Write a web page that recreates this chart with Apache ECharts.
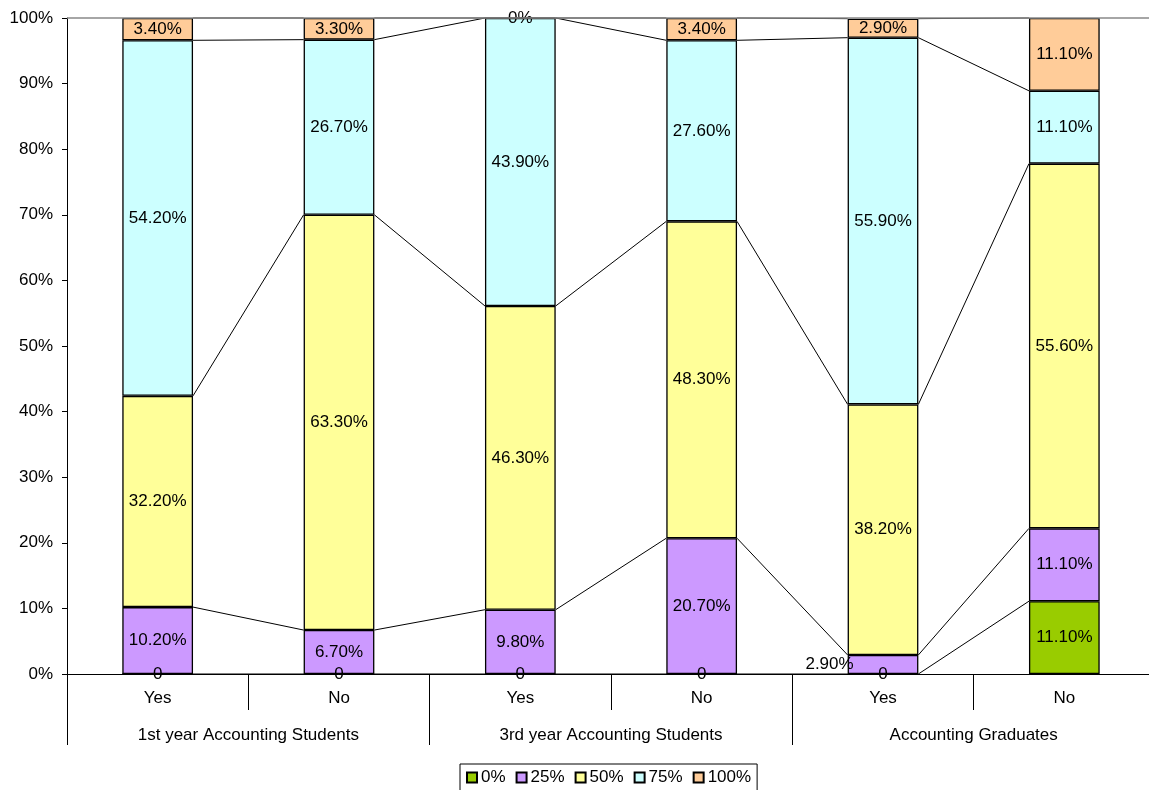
<!DOCTYPE html>
<html>
<head>
<meta charset="utf-8">
<script src="https://cdn.jsdelivr.net/npm/echarts@6/dist/echarts.min.js"></script>
<style>
  html, body { margin: 0; padding: 0; background: #fff; overflow: hidden; }
  /* the plot runs slightly past the right edge of the page */
  #chart { width: 1160px; height: 790px; }
</style>
</head>
<body>
<div id="chart"></div>
<script>
// Answer categories per respondent group
const categories = ['Yes', 'No', 'Yes', 'No', 'Yes', 'No'];
const groups = ['1st year Accounting Students', '3rd year Accounting Students', 'Accounting Graduates'];
const seriesNames = ['0%', '25%', '50%', '75%', '100%'];

// Share of respondents (%) for each level
const share0 = [0, 0, 0, 0, 0, 11.1];
const share25 = [10.2, 6.7, 9.8, 20.7, 2.9, 11.1];
const share50 = [32.2, 63.3, 46.3, 48.3, 38.2, 55.6];
const share75 = [54.2, 26.7, 43.9, 27.6, 55.9, 11.1];
const share100 = [3.4, 3.3, 0, 3.4, 2.9, 11.1];

const yTicks = [0, 10, 20, 30, 40, 50, 60, 70, 80, 90, 100];

const colors = ['#99CC00', '#CC99FF', '#FFFF99', '#CCFFFF', '#FFCC99'];
const allShares = [share0, share25, share50, share75, share100];
const BAR_RATIO = 0.39;
const FONT = '"Liberation Sans", Arial, sans-serif';
const FS = 17;

function fmt(seriesIdx, v) {
  if (v === 0) return seriesIdx === 0 ? '0' : '0%';
  return v.toFixed(2) + '%';
}

const barSeries = allShares.map((vals, k) => ({
  name: seriesNames[k],
  type: 'bar',
  stack: 'total',
  barWidth: (BAR_RATIO * 100) + '%',
  itemStyle: { color: colors[k], borderColor: '#000', borderWidth: 1.3 },
  label: {
    show: true,
    position: 'inside',
    color: '#000',
    fontFamily: FONT,
    fontSize: FS,
    formatter: p => fmt(k, p.value)
  },
  data: vals.map((v, i) => {
    // the tiny 25% segment of the graduates' "Yes" bar has its label set beside the bar
    if (k === 1 && v < 5) {
      return { value: v, label: { position: 'left', distance: -6 } };
    }
    return v;
  }),
  z: 3
}));

// Series lines joining the top of each stacked level between neighbouring bars
const connectorData = [];
allShares.forEach((vals, k) => {
  const cum = categories.map((_, i) => {
    let s = 0;
    for (let j = 0; j <= k; j++) s += allShares[j][i];
    return s;
  });
  for (let i = 0; i < categories.length - 1; i++) {
    connectorData.push([i, cum[i], cum[i + 1]]);
  }
});

const connectorSeries = {
  type: 'custom',
  silent: true,
  z: 2,
  encode: { x: 0, y: [1, 2] },
  renderItem: (params, api) => {
    const i = api.value(0);
    const p1 = api.coord([i, api.value(1)]);
    const p2 = api.coord([i + 1, api.value(2)]);
    const half = api.size([1, 0])[0] * BAR_RATIO / 2;
    return {
      type: 'line',
      shape: { x1: p1[0] + half, y1: p1[1], x2: p2[0] - half, y2: p2[1] },
      style: { stroke: '#000', lineWidth: 1 }
    };
  },
  data: connectorData
};

const chart = echarts.init(document.getElementById('chart'), null, { renderer: 'canvas' });
chart.setOption({
  animation: false,
  backgroundColor: '#fff',
  textStyle: { fontFamily: FONT },
  grid: { left: 67, top: 18, right: 5, bottom: 116, containLabel: false },
  legend: {
    data: seriesNames,
    left: 460,
    top: 764,
    padding: [5, 6, 8, 6],
    borderColor: '#000',
    borderWidth: 1,
    itemWidth: 10,
    itemHeight: 10,
    itemGap: 10,
    icon: 'rect',
    textStyle: { color: '#000', fontSize: FS, fontFamily: FONT, padding: [0, 0, 0, -1] }
  },
  xAxis: [
    {
      type: 'category',
      data: categories,
      position: 'bottom',
      axisLine: { show: true, lineStyle: { color: '#000', width: 1 } },
      axisTick: { show: true, interval: 0, length: 36, lineStyle: { color: '#000' } },
      axisLabel: { interval: 0, margin: 16, color: '#000', fontSize: FS, fontFamily: FONT },
      splitLine: { show: false }
    },
    {
      type: 'category',
      data: groups,
      position: 'bottom',
      axisLine: { show: false },
      axisTick: { show: true, interval: 0, length: 71, lineStyle: { color: '#000' } },
      axisLabel: { interval: 0, margin: 53, color: '#000', fontSize: FS, fontFamily: FONT },
      splitLine: { show: false }
    }
  ],
  yAxis: {
    type: 'value',
    min: yTicks[0],
    max: yTicks[yTicks.length - 1],
    interval: yTicks[1] - yTicks[0],
    axisLine: { show: true, lineStyle: { color: '#000' } },
    axisTick: { show: true, length: 5, lineStyle: { color: '#000' } },
    axisLabel: { formatter: '{value}%', margin: 14, color: '#000', fontSize: FS, fontFamily: FONT },
    splitLine: { show: false }
  },
  series: [
    connectorSeries,
    ...barSeries.map((s, k) => k === 0 ? Object.assign(s, {
      markLine: {
        silent: true,
        symbol: 'none',
        label: { show: false },
        lineStyle: { color: '#888', type: 'solid', width: 1.5 },
        data: [{ yAxis: yTicks[yTicks.length - 1] }]
      }
    }) : s)
  ]
});
</script>
</body>
</html>
